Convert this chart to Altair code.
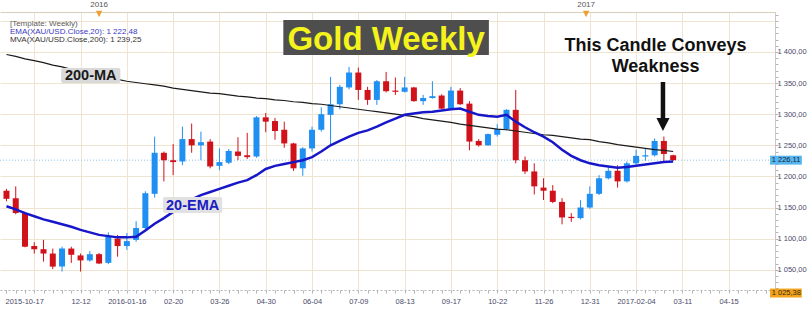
import altair as alt
import pandas as pd

# ---------------- data ----------------
opens = [1177, 1165, 1141, 1088, 1083, 1076, 1055, 1084, 1073, 1065, 1075, 1061, 1100, 1088, 1098, 1117, 1172, 1238, 1226, 1224,
         1260, 1250, 1256, 1217, 1222, 1240, 1234, 1232, 1295, 1289, 1275, 1253, 1213, 1245, 1275, 1299, 1316, 1343, 1367, 1339,
         1323, 1353, 1338, 1336, 1343, 1321, 1326, 1330, 1309, 1338, 1317, 1257, 1250, 1267, 1276, 1307, 1226, 1208, 1182, 1177,
         1159, 1135, 1133, 1150, 1172, 1197, 1209, 1192, 1221, 1232, 1234, 1257, 1234]
highs = [1180, 1184, 1143, 1094, 1098, 1084, 1087, 1087, 1076, 1080, 1077, 1110, 1106, 1109, 1128, 1176, 1264, 1240, 1252, 1280,
         1285, 1272, 1260, 1245, 1244, 1263, 1270, 1297, 1302, 1294, 1288, 1254, 1247, 1280, 1311, 1360, 1347, 1376, 1375, 1344,
         1355, 1368, 1359, 1360, 1344, 1331, 1353, 1332, 1344, 1342, 1321, 1260, 1269, 1284, 1308, 1339, 1232, 1221, 1197, 1186,
         1165, 1141, 1162, 1184, 1202, 1216, 1218, 1224, 1243, 1245, 1261, 1264, 1235]
lows = [1160, 1139, 1086, 1076, 1063, 1051, 1047, 1061, 1047, 1063, 1059, 1059, 1071, 1082, 1095, 1115, 1166, 1192, 1202, 1218,
        1238, 1226, 1213, 1210, 1220, 1226, 1228, 1230, 1271, 1259, 1246, 1209, 1201, 1240, 1272, 1250, 1308, 1340, 1323, 1315,
        1315, 1335, 1331, 1335, 1320, 1315, 1325, 1308, 1308, 1315, 1242, 1248, 1249, 1264, 1274, 1221, 1204, 1171, 1162, 1157,
        1123, 1127, 1131, 1148, 1170, 1195, 1182, 1190, 1219, 1225, 1232, 1224, 1225]
closes = [1164, 1141, 1087, 1083, 1076, 1055, 1084, 1074, 1065, 1075, 1060, 1103, 1088, 1096, 1117, 1173, 1238, 1226, 1223, 1260,
          1250, 1255, 1216, 1223, 1241, 1233, 1231, 1295, 1288, 1273, 1253, 1213, 1245, 1275, 1300, 1316, 1344, 1367, 1339, 1323,
          1353, 1337, 1336, 1343, 1321, 1326, 1329, 1309, 1338, 1316, 1256, 1250, 1268, 1276, 1307, 1226, 1208, 1184, 1177, 1159,
          1134, 1133, 1150, 1172, 1197, 1209, 1192, 1221, 1233, 1234, 1257, 1236, 1226.11]
ema20 = [1152, 1147, 1141, 1136, 1131, 1127, 1123, 1119, 1114, 1110, 1106, 1104, 1102, 1102, 1103, 1113, 1124, 1133, 1143, 1153,
         1163, 1170, 1175, 1180, 1185, 1190, 1194, 1202, 1212, 1217, 1220, 1223, 1226, 1231, 1240, 1250, 1257, 1264, 1270, 1274,
         1280, 1287, 1293, 1299, 1301, 1303, 1304, 1306, 1308, 1309, 1304, 1299, 1297, 1296, 1299, 1288, 1279, 1271, 1264, 1255,
         1243, 1233, 1226, 1221, 1218, 1216, 1214, 1215, 1217, 1219, 1221, 1223, 1224]
ma200 = [1396, 1393, 1389, 1386, 1383, 1379, 1376, 1372, 1369, 1365, 1362, 1359, 1356, 1353, 1351, 1349, 1347, 1345, 1342, 1340,
         1338, 1336, 1334, 1333, 1331, 1329, 1328, 1326, 1325, 1323, 1322, 1320, 1319, 1317, 1316, 1314, 1312, 1310, 1308, 1306,
         1304, 1302, 1300, 1298, 1296, 1293, 1291, 1289, 1287, 1284, 1282, 1280, 1278, 1276, 1275, 1273, 1271, 1269, 1267, 1266,
         1264, 1262, 1260, 1259, 1256, 1254, 1251, 1249, 1247, 1245, 1243, 1242, 1240]

tick_idx = [0, 8, 13, 18, 23, 28, 33, 38, 43, 48, 53, 58, 63, 68, 73, 78]
tick_labels = ["2015-10-17", "12-12", "2016-01-16", "02-20", "03-26", "04-30", "06-04", "07-09",
               "08-13", "09-17", "10-22", "11-26", "12-31", "2017-02-04", "03-11", "04-15"]
grid_x = [3, 8, 13, 18, 23, 28, 33, 38, 43, 48, 53, 58, 63, 68, 73, 78]
grid_y = [1050, 1100, 1150, 1200, 1250, 1300, 1350, 1400, 1450]
price_ticks = list(range(1020, 1461, 10))

legend_lines = ["[Template: Weekly)", "EMA(XAU/USD.Close,20): 1 222,48", "MVA(XAU/USD.Close,200): 1 239,25"]
last_price = 1226.11
low_price_label = "1 025,38"
years = ["2016", "2017"]

# ---------------- styles ----------------
BLUE = "#1f8ff2"
RED = "#d0121b"
GRID = "#efe4cf"
AXIS_TXT = "#4a4a68"
FONT = "Liberation Sans"

x_scale = alt.Scale(domain=[-0.16, 82.46], nice=False, zero=False)
y_scale = alt.Scale(domain=[1017.4, 1464.3], nice=False, zero=False)

df = pd.DataFrame({"i": list(range(len(opens))), "open": opens, "high": highs,
                   "low": lows, "close": closes, "ema": ema20, "ma": ma200})
df["dir"] = ["up" if c >= o else "down" for o, c in zip(opens, closes)]
color_scale = alt.Scale(domain=["up", "down"], range=[BLUE, RED])

idx_js = "[" + ",".join(str(v) for v in tick_idx) + "]"
lab_js = "[" + ",".join("'" + t + "'" for t in tick_labels) + "]"
x_label_expr = f"indexof({idx_js}, datum.value) >= 0 ? {lab_js}[indexof({idx_js}, datum.value)] : ''"
y_label_expr = ("(datum.value % 50 === 0 && datum.value >= 1050 && datum.value <= 1400) ? "
                "replace(replace(format(datum.value, ',.2f'), ',', ' '), '.', ',') : ''")

bottom_axis = alt.Axis(orient="bottom", values=list(range(0, 83)), labelExpr=x_label_expr, grid=False,
                       tickSize=3, tickColor="#b5b5b5", domainColor="#b5b5b5", domainDash=[2, 2],
                       labelFont=FONT, labelFontSize=7.5, labelColor=AXIS_TXT, labelPadding=4,
                       labelAlign={"condition": {"test": "datum.value === 0", "value": "left"}, "value": "center"},
                       labelOffset={"condition": {"test": "datum.value === 0", "value": -1.5}, "value": 0},
                       labelOverlap=False, title=None)
right_axis = alt.Axis(orient="right", values=price_ticks, labelExpr=y_label_expr, grid=False,
                      tickSize=3, tickColor="#b5b5b5", domainColor="#c8c8c8",
                      labelFont=FONT, labelFontSize=7.5, labelColor=AXIS_TXT, labelPadding=-1,
                      labelOverlap=False, title=None)


def X(field, axis=None):
    return alt.X(field, type="quantitative", scale=x_scale, axis=axis)


def Y(field, axis=None):
    return alt.Y(field, type="quantitative", scale=y_scale, axis=axis)


grid = alt.Chart(df).mark_point(opacity=0).encode(
    x=X("i", alt.Axis(orient="top", values=grid_x, grid=True, gridColor=GRID, labels=False, ticks=False,
                      domain=True, domainColor="#d8cebb", title=None)),
    y=Y("close", alt.Axis(orient="left", values=grid_y, grid=True, gridColor=GRID, labels=False, ticks=False,
                          domain=False, title=None)),
)

current_line = alt.Chart(pd.DataFrame({"v": [last_price]})).mark_rule(
    color="#86c6ef", strokeDash=[1, 2], strokeWidth=1).encode(y=Y("v"))

wicks = alt.Chart(df).mark_rule(strokeWidth=1).encode(
    x=X("i", bottom_axis), y=Y("low", right_axis), y2="high:Q",
    color=alt.Color("dir:N", scale=color_scale, legend=None))

bodies = alt.Chart(df).mark_bar(size=6).encode(
    x=X("i"), y=Y("open"), y2="close:Q",
    color=alt.Color("dir:N", scale=color_scale, legend=None))

ma_line = alt.Chart(df).mark_line(color="#1a1a1a", strokeWidth=1.2).encode(x=X("i"), y=Y("ma"))
ema_line = alt.Chart(df).mark_line(color="#1717c9", strokeWidth=2.5).encode(x=X("i"), y=Y("ema"))


def box(i1, i2, v1, v2, **kw):
    d = pd.DataFrame({"i1": [i1], "i2": [i2], "v1": [v1], "v2": [v2]})
    return alt.Chart(d).mark_rect(**kw).encode(x=X("i1"), x2="i2:Q", y=Y("v1"), y2="v2:Q")


def label(texts, i, vs, **kw):
    d = pd.DataFrame({"t": texts, "i": [i] * len(texts), "v": vs})
    return alt.Chart(d).mark_text(**kw).encode(x=X("i"), y=Y("v"), text="t:N")


layers = [grid, current_line, wicks, bodies, ma_line, ema_line]

# moving-average tags
layers.append(box(5.9, 12.3, 1374.3, 1350.2, color="#d9d9d9", cornerRadius=2))
layers.append(label(["200-MA"], 9.1, [1355], font=FONT, fontSize=14.5, fontWeight="bold",
                    color="#1a1a1a", align="center", baseline="alphabetic"))
layers.append(box(16.9, 23.3, 1166.9, 1141.2, color="#e1e1e1", cornerRadius=2))
layers.append(label(["20-EMA"], 20.1, [1146], font=FONT, fontSize=14.5, fontWeight="bold",
                    color="#1c1cc4", align="center", baseline="alphabetic"))

# title
layers.append(box(29.9, 52.1, 1451.4, 1395.2, color="#4e4e4e"))
layers.append(label(["Gold Weekly"], 41.0, [1403.2], font=FONT, fontSize=33, fontWeight="bold",
                    color="#f4f41c", align="center", baseline="alphabetic"))

# callout and arrow
layers.append(label(["This Candle Conveys", "Weakness"], 70.1, [1401.6, 1368.3], font=FONT, fontSize=18,
                    fontWeight="bold", color="#111111", align="center", baseline="alphabetic"))
arrow_d = pd.DataFrame({"i": [70.9], "v1": [1351.8], "v2": [1290.0], "vh": [1283.4]})
layers.append(alt.Chart(arrow_d).mark_rule(color="#111111", strokeWidth=4.5).encode(
    x=X("i"), y=Y("v1"), y2="v2:Q"))
layers.append(alt.Chart(arrow_d).mark_point(shape="M-1,-1L1,-1L0,1Z", filled=True, opacity=1,
                                            color="#111111", size=170).encode(x=X("i"), y=Y("vh")))

# legend in the corner
leg_colors = ["#5c5c5c", "#3b3bc4", "#333333"]
leg_vs = [1445.0, 1431.7, 1419.3]
for t, c, v in zip(legend_lines, leg_colors, leg_vs):
    layers.append(label([t], 0.37, [v], font=FONT, fontSize=8, color=c, align="left", baseline="middle"))

# year markers on top
year_d = pd.DataFrame({"t": years, "i": [10.0, 62.6], "v": [1475.1, 1475.1], "vt": [1461.1, 1461.1]})
layers.append(alt.Chart(year_d).mark_text(font=FONT, fontSize=8, color="#555555", align="center",
                                          baseline="middle").encode(x=X("i"), y=Y("v"), text="t:N"))
layers.append(alt.Chart(year_d).mark_point(shape="M-1,-1L1,-1L0,1Z", filled=True, opacity=1,
                                           color="#f0a030", size=40).encode(x=X("i"), y=Y("vt")))

# price tags on the right axis
layers.append(box(82.46, 85.9, last_price + 7.2, last_price - 7.2, color="#58b6ef"))
layers.append(label(["1 226,11"], 82.65, [last_price], font=FONT, fontSize=7.5, color="#1b2540",
                    align="left", baseline="middle"))
layers.append(box(82.46, 85.9, 1012.5 + 7.2, 1012.5 - 7.2, color="#f2a31f"))
layers.append(label([low_price_label], 82.65, [1012.5], font=FONT, fontSize=7.5, color="#3a2a10",
                    align="left", baseline="middle"))

chart = alt.layer(*layers).resolve_axis(x="independent", y="independent").properties(
    width=775, height=278,
    padding={"left": 0, "top": 12, "right": 35, "bottom": 20},
    autosize="none", background="white",
).configure_view(stroke=None)

chart.save("out.html", embed_options={"renderer": "svg", "actions": False})
